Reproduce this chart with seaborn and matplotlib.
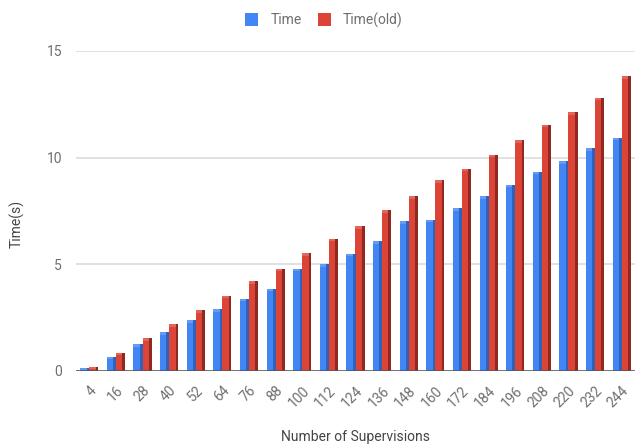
import matplotlib
matplotlib.use("Agg")
import matplotlib.pyplot as plt
from matplotlib.patches import Rectangle, Patch
import seaborn as sns
import pandas as pd

supervisions = [4, 16, 28, 40, 52, 64, 76, 88, 100, 112, 124, 136, 148, 160,
                172, 184, 196, 208, 220, 232, 244]
time_new = [0.15, 0.66, 1.25, 1.83, 2.38, 2.9, 3.39, 3.86, 4.8, 5.0, 5.5, 6.08,
            7.03, 7.09, 7.62, 8.19, 8.73, 9.35, 9.83, 10.45, 10.93]
time_old = [0.2, 0.86, 1.53, 2.2, 2.86, 3.53, 4.2, 4.8, 5.53, 6.2, 6.78, 7.53,
            8.2, 8.93, 9.48, 10.14, 10.82, 11.55, 12.14, 12.82, 13.82]
series = ["Time", "Time(old)"]
colors = ["#4285F4", "#DB4437"]
side_colors = ["#2f62b8", "#8e2a21"]

df = pd.DataFrame({
    "Number of Supervisions": [str(s) for s in supervisions] * 2,
    "value": time_new + time_old,
    "series": [series[0]] * len(supervisions) + [series[1]] * len(supervisions),
})

sns.set_theme(style="white")
plt.rcParams["font.family"] = ["Roboto", "DejaVu Sans"]

fig = plt.figure(figsize=(6.35, 4.45), dpi=100)
ax = fig.add_axes([76 / 635, 1 - 371 / 445, 559 / 635, 320 / 445])

sns.barplot(data=df, x="Number of Supervisions", y="value", hue="series",
            palette=colors, width=0.68, gap=0.0, saturation=1, ax=ax,
            legend=False, zorder=3, linewidth=0)

# darker side face on every bar to give a shallow 3D look
for cont, side in zip(ax.containers, side_colors):
    for p in cont.patches:
        x0, w, h = p.get_x(), p.get_width(), p.get_height()
        d = w * 0.3
        ax.add_patch(Rectangle((x0 + w - d, 0), d, h, facecolor=side,
                               edgecolor="none", zorder=3.1))
        ax.add_patch(Rectangle((x0, h - 0.12), w - d, 0.12, facecolor="white",
                               alpha=0.18, edgecolor="none", zorder=3.2))
# keep the second series' faces drawn above the first series' sides
for p in ax.containers[1].patches:
    p.set_zorder(3.05)

ax.set_ylim(0, 15)
ax.set_xlim(-0.5, 20.5)
ax.set_yticks([0, 5, 10, 15])
ax.yaxis.grid(True, color="#d9d9d9", linewidth=1.1, zorder=0)
ax.axhline(0, color="#555555", linewidth=1.1, zorder=4)
for s in ax.spines.values():
    s.set_visible(False)

ax.tick_params(axis="both", length=0, colors="#6f6f6f", labelsize=10)
ax.tick_params(axis="y", pad=10)
ax.tick_params(axis="x", pad=9)
for lbl in ax.get_xticklabels():
    lbl.set_rotation(45)
    lbl.set_ha("right")
    lbl.set_rotation_mode("anchor")

ax.set_xlabel("Number of Supervisions", fontsize=10, color="#444444")
ax.set_ylabel("Time(s)", fontsize=10, color="#444444")
ax.xaxis.set_label_coords(0.5, -(437 - 371) / 320, transform=ax.transAxes)
ax.xaxis.label.set_va("center")
ax.yaxis.set_label_coords(-(76 - 17) / 559, (371 - 224) / 320,
                          transform=ax.transAxes)
ax.yaxis.label.set_va("center")

handles = [Patch(facecolor=c, edgecolor="none") for c in colors]
fig.legend(handles, series, loc="center", bbox_to_anchor=(324 / 635, 1 - 20 / 445),
           ncol=2, frameon=False, fontsize=10, labelcolor="#6f6f6f",
           handlelength=0.9, handleheight=1.1, handletextpad=0.9,
           columnspacing=1.2)

fig.savefig("out.png", dpi=100)
